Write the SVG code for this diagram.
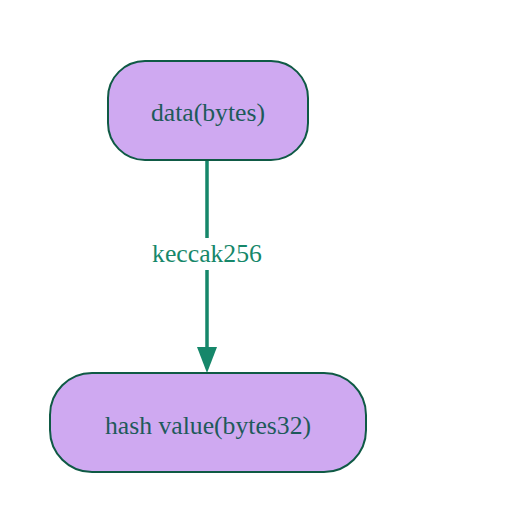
<svg xmlns="http://www.w3.org/2000/svg" width="524" height="530" viewBox="0 0 524 530">
<style>
.node rect{fill:#cfa9f1;stroke:#0f5a45;stroke-width:2}
.node text{font-family:"Liberation Serif",serif;font-size:25.7px;fill:#1e5a5a;text-anchor:middle}
.edge{stroke:#16876a;stroke-width:3.5;fill:none}
.ahead{fill:#16876a}
.elabel{font-family:"Liberation Serif",serif;font-size:25.7px;fill:#16876a;text-anchor:middle}
</style>
<rect width="524" height="530" fill="#ffffff"/>
<g id="edges">
<path class="edge" d="M207,160 V238 M207,270 V350"/>
<polygon class="ahead" points="197,347 217,347 207,373"/>
<text class="elabel" x="207" y="262">keccak256</text>
</g>
<g id="n1" class="node">
<rect x="108" y="61" width="200" height="99" rx="37" ry="37"/>
<text x="208" y="121">data(bytes)</text>
</g>
<g id="n2" class="node">
<rect x="50" y="373" width="316" height="99" rx="42" ry="42"/>
<text x="208" y="434">hash value(bytes32)</text>
</g>
</svg>
